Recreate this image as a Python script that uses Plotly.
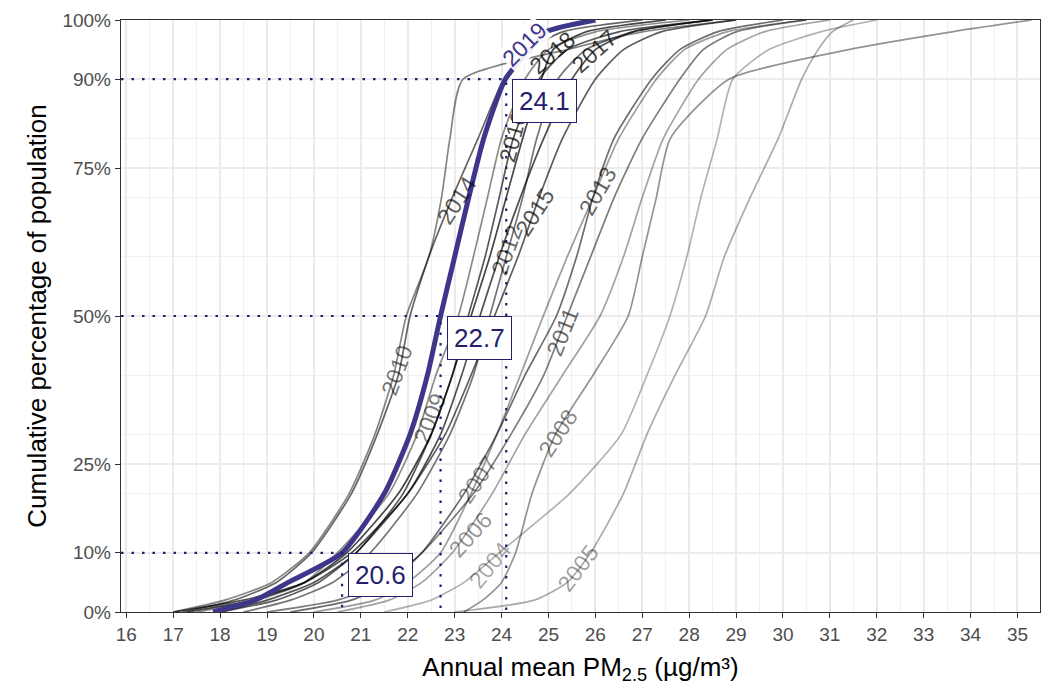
import plotly.graph_objects as go

# cumulative percentage levels (y) at which x values were read
pct = [0, 2, 5, 10, 20, 30, 40, 50, 60, 70, 80, 90, 95, 98, 100]

years = [2004, 2005, 2006, 2007, 2008, 2009, 2010, 2011, 2012,
         2013, 2014, 2015, 2016, 2017, 2018, 2019]

pm_2004 = [21.5, 22.5, 23.2, 23.95, 25.45, 26.55, 27.1, 27.59, 27.95, 28.25, 28.6, 28.93, 29.7, 30.8, 32.0]
pm_2005 = [23.0, 24.7, 25.4, 25.9, 26.6, 27.1, 27.7, 28.35, 28.75, 29.3, 29.9, 30.4, 30.75, 31.05, 31.5]
pm_2006 = [20.5, 21.6, 22.3, 22.95, 23.8, 24.5, 25.3, 26.1, 26.6, 27.0, 27.45, 28.2, 28.8, 29.6, 31.0]
pm_2007 = [20.0, 21.3, 22.0, 22.7, 23.35, 23.9, 24.4, 24.89, 25.4, 25.95, 26.5, 27.3, 27.9, 28.8, 30.5]
pm_2008 = [23.2, 23.6, 24.0, 24.3, 24.65, 25.15, 25.95, 26.7, 27.0, 27.3, 27.6, 28.85, 31.4, 33.6, 35.3]
pm_2009 = [17.5, 18.8, 19.8, 20.5, 21.6, 22.2, 22.6, 23.08, 23.4, 23.7, 24.0, 24.5, 25.0, 26.0, 28.0]
pm_2010 = [17.0, 18.1, 19.1, 19.9, 20.75, 21.3, 21.7, 21.97, 22.45, 22.72, 22.9, 23.18, 25.4, 27.0, 29.0]
pm_2011 = [19.0, 20.5, 21.5, 22.3, 23.4, 24.2, 24.9, 25.4, 25.9, 26.4, 27.0, 27.8, 28.3, 29.0, 30.5]
pm_2012 = [18.5, 19.5, 20.4, 21.2, 22.2, 22.9, 23.4, 23.75, 24.1, 24.45, 24.75, 25.2, 25.8, 26.8, 28.5]
pm_2013 = [19.5, 20.8, 21.6, 22.3, 23.2, 23.9, 24.5, 25.17, 25.6, 25.95, 26.4, 27.2, 27.8, 28.6, 30.0]
pm_2014 = [17.2, 18.3, 19.2, 19.95, 20.8, 21.35, 21.8, 22.05, 22.45, 22.95, 23.5, 24.05, 24.6, 25.3, 27.0]
pm_2015 = [18.0, 19.2, 20.1, 20.9, 22.0, 22.8, 23.35, 23.85, 24.35, 24.8, 25.3, 26.0, 26.6, 27.4, 29.0]
pm_2016 = [18.0, 19.0, 20.0, 20.9, 21.9, 22.5, 22.95, 23.29, 23.65, 23.95, 24.25, 24.8, 25.4, 26.5, 28.5]
pm_2017 = [17.0, 18.5, 19.8, 20.8, 22.0, 22.7, 23.15, 23.54, 23.95, 24.4, 24.9, 25.5, 26.0, 26.8, 28.5]
pm_2018 = [17.3, 18.7, 19.8, 20.7, 21.8, 22.5, 22.95, 23.35, 23.75, 24.1, 24.45, 24.85, 25.1, 25.8, 27.5]
pm_2019 = [17.85, 18.75, 19.45, 20.6, 21.5, 22.05, 22.42, 22.7, 23.0, 23.3, 23.62, 24.08, 24.6, 24.95, 26.0]

series = [pm_2004, pm_2005, pm_2006, pm_2007, pm_2008, pm_2009, pm_2010, pm_2011,
          pm_2012, pm_2013, pm_2014, pm_2015, pm_2016, pm_2017, pm_2018, pm_2019]

# where each year label sits (x, cumulative %) and its slope along the curve (degrees)
label_x = [23.75, 25.63, 23.33, 23.48, 25.2, 22.47, 21.77, 25.3, 24.11,
           26.05, 23.05, 24.71, 24.24, 25.99, 25.08, 24.5]
label_p = [8.0, 7.5, 13.0, 22.3, 30.3, 32.8, 40.9, 47.3, 61.2,
           71.1, 69.6, 67.6, 80.3, 94.7, 94.4, 95.9]
label_angle = [-51, -53, -48, -56, -57, -68, -70, -68, -70,
               -60, -57, -57, -75, -42, -41, -45]

# 2019 reference percentiles
ref_p = [10, 50, 90]
ref_x = [20.6, 22.7, 24.1]
ref_text = ["20.6", "22.7", "24.1"]

x_ticks = list(range(16, 36))
x_minor = [v + 0.5 for v in range(15, 36)]
y_ticks = [0, 10, 25, 50, 75, 90, 100]
y_minor = [20, 30, 40, 60, 70, 80]

X_RANGE = [15.887, 35.48]
Y_RANGE = [0, 100]

HL = "#3D3689"
NAVY = "#231F6E"
FONT = "Liberation Sans, Arial, Helvetica, sans-serif"

fig = go.Figure()

year_annotations = []
for i, (yr, xs) in enumerate(zip(years, series)):
    if yr == 2019:
        color = HL
        width = 5
        tcolor = HL
        bg = "rgba(255,255,255,0.92)"
    else:
        a = 0.30 + 0.42 * (yr - 2004) / 14.0
        color = f"rgba(0,0,0,{a:.3f})"
        width = 1.7
        tcolor = f"rgba(0,0,0,{min(a + 0.05, 0.9):.3f})"
        bg = "rgba(255,255,255,0)"
    fig.add_trace(go.Scatter(x=xs, y=pct, mode="lines",
                             line=dict(color=color, width=width, shape="spline", smoothing=0.6),
                             hoverinfo="skip", showlegend=False))
    ann = dict(x=label_x[i], y=label_p[i], text=str(yr), showarrow=False,
               textangle=label_angle[i],
               font=dict(size=23, color=tcolor, family=FONT),
               bgcolor=bg, borderpad=0,
               xanchor="center", yanchor="middle")
    if yr == 2019:
        year_annotations.insert(0, ann)   # drawn first so neighbouring labels stay visible
    else:
        year_annotations.append(ann)

annotations = list(year_annotations)

# reference dotted lines + labels
for xv, pv, t in zip(ref_x, ref_p, ref_text):
    fig.add_trace(go.Scatter(x=[X_RANGE[0], xv, xv], y=[pv, pv, 0], mode="lines",
                             line=dict(color=NAVY, width=2.2, dash="2.5px,8px"),
                             hoverinfo="skip", showlegend=False))
    annotations.append(dict(x=xv, y=pv, text=t, showarrow=False, xanchor="left", yanchor="top",
                            xshift=6, font=dict(size=26, color=NAVY, family=FONT),
                            bgcolor="white", bordercolor=NAVY, borderwidth=1, borderpad=6))

# the page adds an 8px body margin, so the figure is sized to sit inside the window
fig.update_layout(
    width=1034, height=683,
    margin=dict(l=113, r=2, t=12, b=79),
    paper_bgcolor="white", plot_bgcolor="white",
    font=dict(family=FONT, color="#000000"),
    annotations=annotations,
    xaxis=dict(
        range=X_RANGE, tickmode="array", tickvals=x_ticks,
        ticktext=[str(v) for v in x_ticks],
        showgrid=True, gridcolor="#EBEBEB", gridwidth=1.6,
        minor=dict(tickmode="array", tickvals=x_minor,
                   showgrid=True, gridcolor="#F0F0F0", gridwidth=0.9, ticks=""),
        ticks="outside", ticklen=5, tickwidth=1.4, tickcolor="#333333",
        tickfont=dict(size=19, color="#4D4D4D"),
        showline=True, linecolor="#333333", linewidth=1.4, mirror=True,
        zeroline=False, automargin=False,
        title=dict(text="Annual mean PM<sub>2.5</sub> (µg/m³)", font=dict(size=26, color="#000000"),
                   standoff=13),
    ),
    yaxis=dict(
        range=Y_RANGE, tickmode="array", tickvals=y_ticks,
        ticktext=[f"{v}%" for v in y_ticks],
        showgrid=True, gridcolor="#EBEBEB", gridwidth=1.6,
        minor=dict(tickmode="array", tickvals=y_minor, showgrid=True,
                   gridcolor="#F0F0F0", gridwidth=0.9, ticks=""),
        ticks="outside", ticklen=5, tickwidth=1.4, tickcolor="#333333",
        tickfont=dict(size=19, color="#4D4D4D"),
        showline=True, linecolor="#333333", linewidth=1.4, mirror=True,
        zeroline=False, automargin=False,
        title=dict(text="Cumulative percentage of population", font=dict(size=26, color="#000000"),
                   standoff=8),
    ),
)

fig.write_html("out.html")
